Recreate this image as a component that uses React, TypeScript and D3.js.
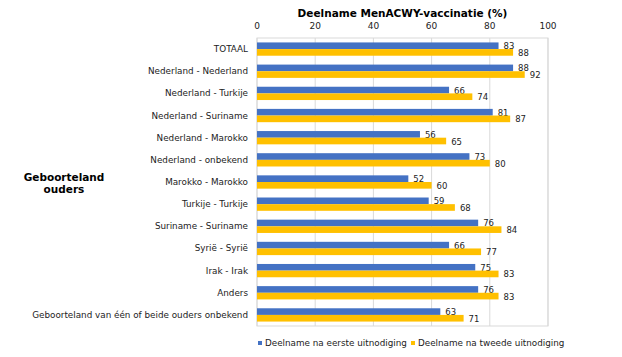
import React from "react";
import * as d3 from "d3";

const categories = [
  "TOTAAL",
  "Nederland - Nederland",
  "Nederland - Turkije",
  "Nederland - Suriname",
  "Nederland - Marokko",
  "Nederland - onbekend",
  "Marokko - Marokko",
  "Turkije - Turkije",
  "Suriname - Suriname",
  "Syrië - Syrië",
  "Irak - Irak",
  "Anders",
  "Geboorteland van één of beide ouders onbekend",
];
const firstInvite = [83, 88, 66, 81, 56, 73, 52, 59, 76, 66, 75, 76, 63];
const secondInvite = [88, 92, 74, 87, 65, 80, 60, 68, 84, 77, 83, 83, 71];
const seriesNames = ["Deelname na eerste uitnodiging", "Deelname na tweede uitnodiging"];
const xTicks = [0, 20, 40, 60, 80, 100];
const chartTitle = "Deelname MenACWY-vaccinatie (%)";
const yTitle = ["Geboorteland", "ouders"];

const W = 622;
const H = 357;
const left = 257;
const right = 548;
const top = 38;
const bottom = 326;
const font = "'DejaVu Sans', Verdana, sans-serif";
const colors = ["#4472C4", "#FFC000"];

export default function App() {
  const x = d3.scaleLinear().domain([0, 100]).range([left, right]);
  const y = d3.scaleBand<string>().domain(categories).range([top, bottom]).paddingInner(0.4).paddingOuter(0.2);
  const inner = d3.scaleBand<number>().domain([0, 1]).range([0, y.bandwidth()]);
  const series = [firstInvite, secondInvite];

  return (
    <svg width={W} height={H} style={{ position: "absolute", left: 0, top: 0, background: "#fff" }}>
      <rect x={0} y={0} width={W} height={H} fill="#fff" />
      <text x={(left + right) / 2} y={17} textAnchor="middle" fontFamily={font} fontWeight="bold" fontSize={10.5} fill="#000">
        {chartTitle}
      </text>
      {xTicks.map((t) => (
        <g key={t}>
          <line x1={x(t)} x2={x(t)} y1={top} y2={bottom} stroke="#D9D9D9" strokeWidth={1} />
          <text x={x(t)} y={29} textAnchor="middle" fontFamily={font} fontSize={9} fill="#222">
            {t}
          </text>
        </g>
      ))}
      <rect x={left} y={top} width={right - left} height={bottom - top} fill="none" stroke="#D9D9D9" strokeWidth={1} />
      {categories.map((c, i) => {
        const y0 = y(c)!;
        return (
          <g key={c}>
            <text x={248} y={y0 + y.bandwidth() / 2 + 3} textAnchor="end" fontFamily={font} fontSize={8.8} fill="#222">
              {c}
            </text>
            {series.map((s, k) => {
              const by = y0 + inner(k)!;
              return (
                <g key={k}>
                  <rect x={x(0)} y={by} width={x(s[i]) - x(0)} height={inner.bandwidth()} fill={colors[k]} />
                  <text
                    x={x(s[i]) + 5}
                    y={by + inner.bandwidth() / 2 + 3.5}
                    fontFamily={font}
                    fontSize={8.5}
                    fill="#222"
                  >
                    {s[i]}
                  </text>
                </g>
              );
            })}
          </g>
        );
      })}
      <text textAnchor="middle" fontFamily={font} fontWeight="bold" fontSize={10.5} fill="#000">
        <tspan x={64} y={181}>{yTitle[0]}</tspan>
        <tspan x={64} y={193}>{yTitle[1]}</tspan>
      </text>
      {seriesNames.map((n, k) => {
        const lx = k === 0 ? 258 : 411;
        return (
          <g key={n}>
            <rect x={lx} y={341} width={4} height={4} fill={colors[k]} />
            <text x={lx + 7} y={346} fontFamily={font} fontSize={8.8} fill="#222">
              {n}
            </text>
          </g>
        );
      })}
    </svg>
  );
}
